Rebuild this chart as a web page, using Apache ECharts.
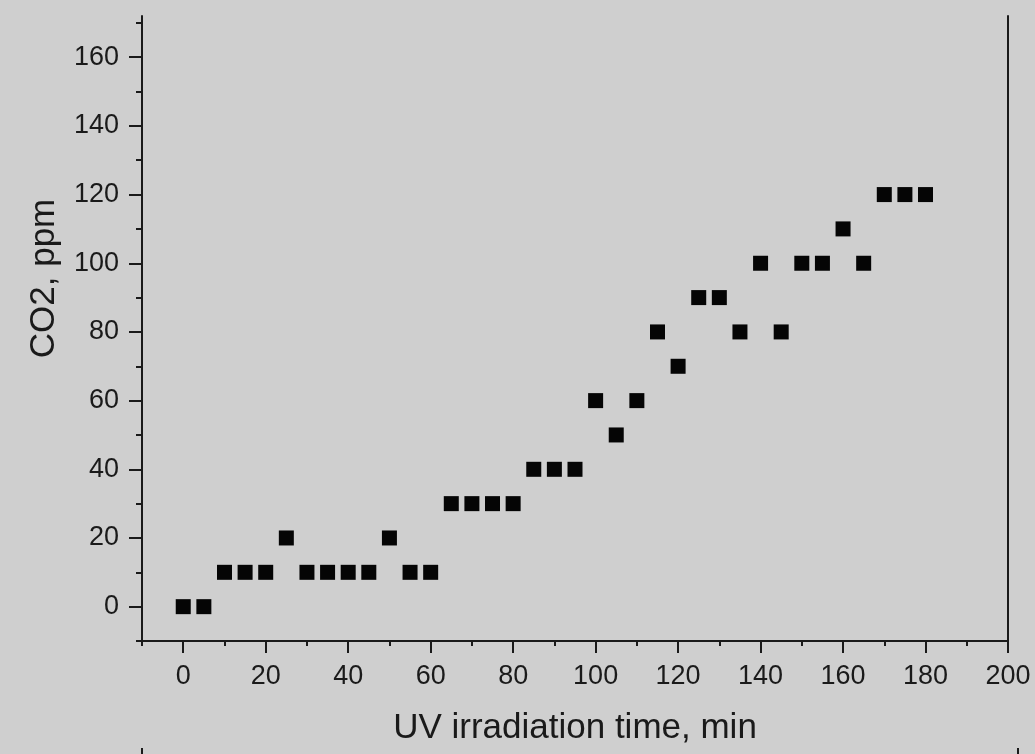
<!DOCTYPE html>
<html>
<head>
<meta charset="utf-8">
<script src="https://cdn.jsdelivr.net/npm/echarts@6/dist/echarts.min.js"></script>
<style>
html,body{margin:0;padding:0;background:#cfcfcf;}
#chart{width:1035px;height:754px;}
</style>
</head>
<body>
<div id="chart"></div>
<script>
// Data
const times = [0,5,10,15,20,25,30,35,40,45,50,55,60,65,70,75,80,85,90,95,100,105,110,115,120,125,130,135,140,145,150,155,160,165,170,175,180];
const co2   = [0,0,10,10,10,20,10,10,10,10,20,10,10,30,30,30,30,40,40,40,60,50,60,80,70,90,90,80,100,80,100,100,110,100,120,120,120];
const xMajorTicks = [0,20,40,60,80,100,120,140,160,180,200];
const xMinorTicks = [-10,10,30,50,70,90,110,130,150,170,190];
const yMajorTicks = [0,20,40,60,80,100,120,140,160];
const yMinorTicks = [-10,10,30,50,70,90,110,130,150,170];
const xTitle = 'UV irradiation time, min';
const yTitle = 'CO2, ppm';

const FONT = '"Liberation Sans", Arial, sans-serif';
const INK = '#1a1a1a';

const chart = echarts.init(document.getElementById('chart'));
const lineStyle = {color: INK, width: 2};

chart.setOption({
  backgroundColor: '#cfcfcf',
  animation: false,
  grid: {left: 142, right: 27, top: 16, bottom: 113, containLabel: false},
  xAxis: [
    {
      type: 'value', min: -10, max: 200, interval: 10, position: 'bottom',
      axisLine: {show: true, onZero: false, lineStyle: lineStyle},
      axisTick: {show: true, inside: false, length: 12, customValues: xMajorTicks, lineStyle: lineStyle},
      axisLabel: {show: true, margin: 22, customValues: xMajorTicks, fontSize: 27, color: INK, fontFamily: FONT},
      splitLine: {show: false},
      name: xTitle, nameLocation: 'middle', nameGap: 70,
      nameTextStyle: {fontSize: 35, color: INK, fontFamily: FONT}
    },
    {
      type: 'value', min: -10, max: 200, interval: 10, position: 'bottom',
      axisLine: {show: false, onZero: false},
      axisTick: {show: true, inside: false, length: 5, customValues: xMinorTicks, lineStyle: lineStyle},
      axisLabel: {show: false},
      splitLine: {show: false}
    }
  ],
  yAxis: [
    {
      type: 'value', min: -10, max: 172, interval: 10, position: 'left',
      axisLine: {show: true, onZero: false, lineStyle: lineStyle},
      axisTick: {show: true, inside: false, length: 13, customValues: yMajorTicks, lineStyle: lineStyle},
      axisLabel: {show: true, margin: 23, customValues: yMajorTicks, fontSize: 27, color: INK, fontFamily: FONT},
      splitLine: {show: false},
      name: yTitle, nameLocation: 'middle', nameGap: 80, nameRotate: 90,
      nameTextStyle: {fontSize: 35, color: INK, fontFamily: FONT, padding: [0, 0, 0, 100]}
    },
    {
      type: 'value', min: -10, max: 172, interval: 10, position: 'left',
      axisLine: {show: false, onZero: false},
      axisTick: {show: true, inside: false, length: 6, customValues: yMinorTicks, lineStyle: lineStyle},
      axisLabel: {show: false},
      splitLine: {show: false}
    },
    {
      type: 'value', min: -10, max: 172, interval: 10, position: 'right',
      axisLine: {show: true, onZero: false, lineStyle: lineStyle},
      axisTick: {show: false},
      axisLabel: {show: false},
      splitLine: {show: false}
    }
  ],
  series: [{
    type: 'scatter',
    xAxisIndex: 0, yAxisIndex: 0,
    symbol: 'rect', symbolSize: 15,
    itemStyle: {color: '#050505', opacity: 1, borderRadius: 2},
    data: times.map((t, i) => [t, co2[i]])
  }],
  graphic: [
    {type: 'line', shape: {x1: 142, y1: 748, x2: 142, y2: 754}, style: {stroke: INK, lineWidth: 2}},
    {type: 'line', shape: {x1: 1018, y1: 748, x2: 1018, y2: 754}, style: {stroke: INK, lineWidth: 2}}
  ]
});
</script>
</body>
</html>
